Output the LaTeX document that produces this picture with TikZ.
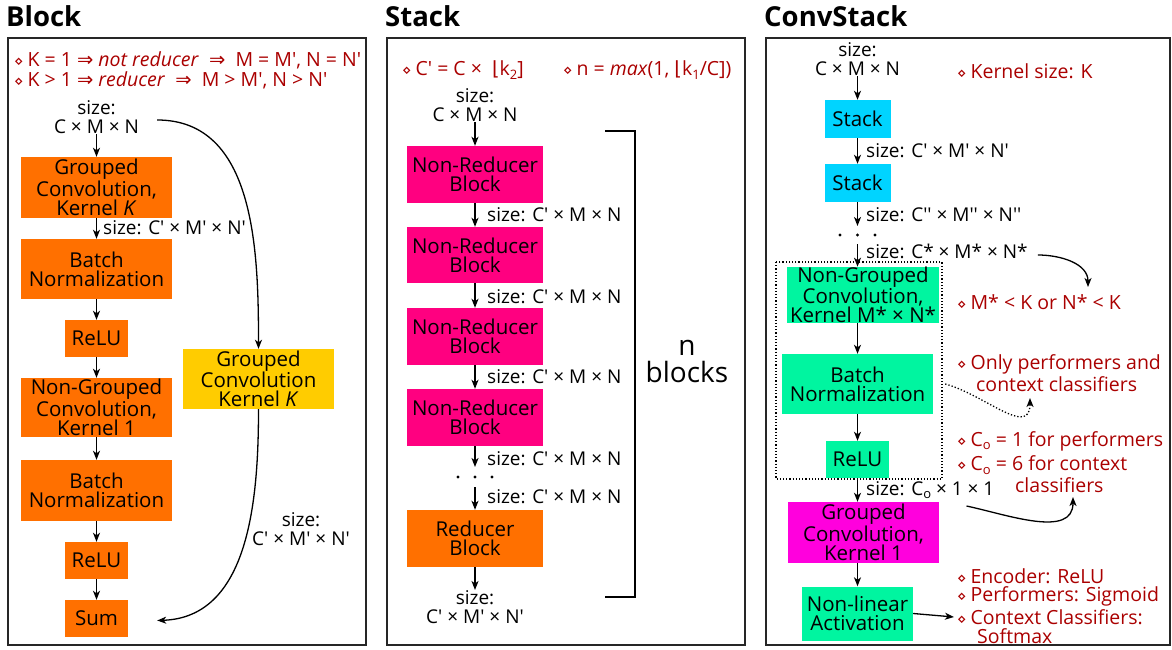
\documentclass[tikz,border=0pt]{standalone}
\usepackage{fontspec}
\newfontfamily\osans{Open Sans}
\newfontfamily\sym{DejaVu Sans}
\usetikzlibrary{arrows.meta}
\definecolor{cOr}{HTML}{FF7000}
\definecolor{cYe}{HTML}{FFCC00}
\definecolor{cPk}{HTML}{FF0080}
\definecolor{cCy}{HTML}{00D4FF}
\definecolor{cGr}{HTML}{00F5A0}
\definecolor{cMg}{HTML}{FF00DD}
\definecolor{cRd}{HTML}{AA0000}
\newcommand\lo[1]{\raisebox{-0.35ex}{\fontsize{13}{13}\selectfont #1}}
\newcommand\dm{{\sym\fontsize{15}{15}\selectfont ⋄}\hspace{4pt}}
\newcommand\imp{{\sym ⇒}}
\tikzset{
  bx/.style n args={2}{minimum width=#1pt, minimum height=#2pt, inner sep=0pt, align=center, font=\osans\fontsize{20.5}{19}\selectfont},
  ob/.style={fill=cOr},
  yb/.style={fill=cYe},
  pb/.style={fill=cPk},
  cb/.style={fill=cCy},
  gb/.style={fill=cGr},
  mb/.style={fill=cMg},
  lbl/.style={inner sep=0pt, align=center},
  rtxt/.style={inner sep=0pt, anchor=west, text=cRd, font=\osans\fontsize{19.5}{19.5}\selectfont},
  ttl/.style={inner sep=0pt, anchor=west, font=\osans\bfseries\fontsize{27.5}{27.5}\selectfont},
  arr/.style={line width=1.3pt, -{Stealth[length=9pt,width=7pt,inset=2.5pt]}},
  panel/.style={line width=1.6pt, draw=black!85},
}
\begin{document}
\begin{tikzpicture}[x=1pt,y=1pt]
\osans\fontsize{19}{19.5}\selectfont
\useasboundingbox (0,0) rectangle (1172,-650);
% panels
\draw[panel] (8,-38) rectangle (366,-645);
\draw[panel] (387,-38) rectangle (745,-645);
\draw[panel] (766,-38) rectangle (1170,-645);
\node[ttl] (t1) at (6,-16) {Block};
\node[ttl] (t2) at (385,-16) {Stack};
\node[ttl] (t3) at (764,-16) {ConvStack};

% ---------------- Block ----------------
\node[rtxt] (br1) at (14,-60) {\dm K = 1 \imp{} \textit{not reducer} \ \imp{} \ M = M', N = N'};
\node[rtxt] (br2) at (14,-80) {\dm K > 1 \imp{} \textit{reducer} \ \imp{} \ M > M', N > N'};
\node[lbl] (bin) at (96.5,-117) {size:\\C × M × N};
\node[bx={151}{61}, ob] (b1) at (96.5,-187.5) {Grouped\\Convolution,\\Kernel \textit{K}};
\node[bx={151}{60}, ob] (b2) at (96.5,-269) {Batch\\Normalization};
\node[bx={63}{37}, ob] (b3) at (96.5,-338.5) {ReLU};
\node[bx={151}{59}, ob] (b4) at (96.5,-407.5) {Non-Grouped\\Convolution,\\Kernel 1};
\node[bx={151}{61}, ob] (b5) at (96.5,-490.5) {Batch\\Normalization};
\node[bx={63}{37}, ob] (b6) at (96.5,-560.5) {ReLU};
\node[bx={63}{37}, ob] (b7) at (96.5,-618.5) {Sum};
\node[bx={151}{60}, yb] (by) at (258.5,-379) {Grouped\\Convolution\\Kernel \textit{K}};
\node[lbl, anchor=west] (bl1) at (103,-228) {size: C' × M' × N'};
\node[lbl] (bl2) at (301,-529) {size:\\C' × M' × N'};
\draw[arr] (bin) -- (b1);
\draw[arr] (b1) -- (b2);
\draw[arr] (b2) -- (b3);
\draw[arr] (b3) -- (b4);
\draw[arr] (b4) -- (b5);
\draw[arr] (b5) -- (b6);
\draw[arr] (b6) -- (b7);
\draw[arr] ([shift={(18pt,-3pt)}]bin.east) to[out=0,in=90] (by.north);
\draw[arr] (by.south) to[out=-90,in=2] ([shift={(29pt,-2pt)}]b7.east);

% ---------------- Stack ----------------
\node[rtxt] (sr1) at (402,-70) {\dm C' = C × \ {\sym ⌊}k\lo{2}]};
\node[rtxt] (sr2) at (563,-70) {\dm n = \textit{max}(1, {\sym ⌊}k\lo{1}/C])};
\node[lbl] (sin) at (475,-105) {size:\\C × M × N};
\node[bx={136}{57}, pb] (n1) at (475,-174.5) {Non-Reducer\\Block};
\node[bx={136}{56}, pb] (n2) at (475,-255) {Non-Reducer\\Block};
\node[bx={136}{57}, pb] (n3) at (475,-336.5) {Non-Reducer\\Block};
\node[bx={136}{57}, pb] (n4) at (475,-417.5) {Non-Reducer\\Block};
\node[bx={136}{57}, ob] (rb) at (475,-538.5) {Reducer\\Block};
\node[lbl] (sout) at (475,-607) {size:\\C' × M' × N'};
\coordinate (sd1) at (475,-467);
\coordinate (sd2) at (475,-487);
\draw[arr] (sin) -- (n1);
\draw[arr] (n1) -- (n2);
\draw[arr] (n2) -- (n3);
\draw[arr] (n3) -- (n4);
\draw[arr] (n4) -- (sd1);
\draw[arr] (sd2) -- (rb);
\draw[arr] (rb) -- (sout);
\foreach \xx in {458,475,492} \fill (\xx,-477) circle (1.6pt);
\node[lbl, anchor=west] at (487,-215) {size: C' × M × N};
\node[lbl, anchor=west] at (487,-297) {size: C' × M × N};
\node[lbl, anchor=west] at (487,-377) {size: C' × M × N};
\node[lbl, anchor=west] at (487,-459) {size: C' × M × N};
\node[lbl, anchor=west] at (487,-497) {size: C' × M × N};
\draw[line width=1.5pt] (605,-131) -- (635,-131) -- (635,-597) -- (605,-597);
\node[lbl, font=\osans\fontsize{28}{27}\selectfont] (nb) at (687,-362) {n\\blocks};

% ---------------- ConvStack ----------------
\node[lbl] (cin) at (857.5,-59) {size:\\C × M × N};
\node[bx={66}{38}, cb] (s1) at (857.5,-119) {Stack};
\node[bx={66}{38}, cb] (s2) at (857.5,-183) {Stack};
\coordinate (cd1) at (857.5,-226);
\coordinate (cd2) at (857.5,-244);
\foreach \xx in {840,857.5,875} \fill (\xx,-235) circle (1.6pt);
\node[bx={152}{56}, gb] (ng) at (863,-295) {Non-Grouped\\Convolution,\\Kernel M* × N*};
\node[bx={151}{60}, gb] (bn) at (857.5,-384) {Batch\\Normalization};
\node[bx={63}{37}, gb] (rl) at (857.5,-459.5) {ReLU};
\node[bx={151}{61}, mb] (gc) at (863.5,-532.5) {Grouped\\Convolution,\\Kernel 1};
\node[bx={111}{54}, gb] (nl) at (857.5,-613.5) {Non-linear\\Activation};
\draw[line width=1.2pt, dotted] (776,-262) rectangle (942,-479);
\node[lbl, anchor=west] (cl1) at (866,-151) {size: C' × M' × N'};
\node[lbl, anchor=west] (cl2) at (866,-215) {size: C'' × M'' × N''};
\node[lbl, anchor=west] (cl3) at (866,-251) {size: C* × M* × N*};
\node[lbl, anchor=west] (cl4) at (866,-490) {size: C\lo{o} × 1 × 1};
\draw[arr] (cin) -- (s1);
\draw[arr] (s1) -- (s2);
\draw[arr] (s2) -- (cd1);
\draw[arr] (cd2) -- (cd2 |- ng.north);
\draw[arr] (ng.south -| bn) -- (bn);
\draw[arr] (bn) -- (rl);
\draw[arr] (rl) -- (rl |- gc.north);
\draw[arr] (gc.south -| nl) -- (nl);
% red notes
\node[rtxt] (k1) at (957,-71) {\dm Kernel size: K};
\node[rtxt] (k2) at (957,-302) {\dm M* < K or N* < K};
\node[rtxt] (k3) at (957,-364) {\dm Only performers and};
\node[rtxt] (k3b) at (976,-384) {context classifiers};
\node[rtxt] (k4) at (957,-441) {\dm C\lo{o} = 1 for performers};
\node[rtxt] (k5) at (957,-465) {\dm C\lo{o} = 6 for context};
\node[rtxt] (k5b) at (1015,-485) {classifiers};
\node[rtxt] (k6) at (957,-576) {\dm Encoder: ReLU};
\node[rtxt] (k7) at (957,-596) {\dm Performers: Sigmoid};
\node[rtxt] (k8) at (957,-617) {\dm Context Classifiers:};
\node[rtxt] (k8b) at (977,-636) {Softmax};
\coordinate (e1) at (1088,-287);
\coordinate (e2) at (1030,-398);
\coordinate (e3) at (1073,-497);
\draw[arr] ([xshift=10pt,yshift=-4pt]cl3.east) to[out=0,in=90] (e1);
\draw[arr, dotted] ([xshift=12pt]bn.east) to[out=-15,in=-90,looseness=1.2] (e2);
\draw[arr] ([shift={(-28pt,-16pt)}]cl4.east) to[out=-12,in=-90] (e3);
\draw[arr] (nl.east) -- ([xshift=-3pt]k8.west);
\end{tikzpicture}
\end{document}
